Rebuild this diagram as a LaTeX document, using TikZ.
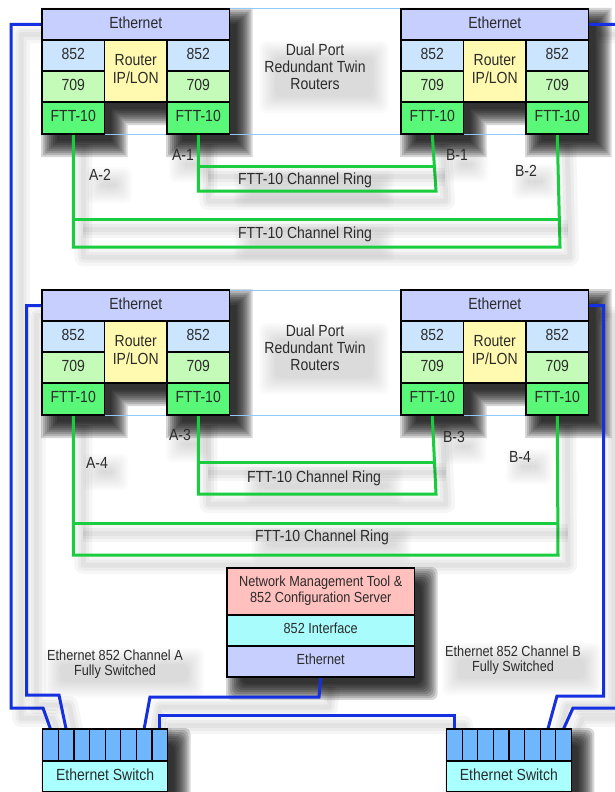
\documentclass[tikz,border=0pt]{standalone}
\usepackage{fontspec}
\setmainfont{Liberation Sans}
\usepackage{graphicx}
\usetikzlibrary{calc}
\definecolor{ethc}{HTML}{C6CFFD}
\definecolor{cbl}{HTML}{CCE5FF}
\definecolor{cgr}{HTML}{C4FBB8}
\definecolor{fttc}{HTML}{5AF878}
\definecolor{rtrc}{HTML}{FFFAAF}
\definecolor{nmtc}{HTML}{FFC0BE}
\definecolor{ifc}{HTML}{A8FCFC}
\definecolor{portc}{HTML}{70B6FC}
\definecolor{swc}{HTML}{AAFFFF}
\definecolor{ringc}{HTML}{1ACD3E}
\definecolor{ethl}{HTML}{1430E0}
\definecolor{grpc}{HTML}{90C8F8}
\definecolor{txt}{HTML}{2B2B2B}
\pgfdeclarelayer{shadow}
\pgfdeclarelayer{lines}
\pgfsetlayers{shadow,lines,main}
\newcommand\vs[1]{\scalebox{1}[1.15]{\begin{tabular}{@{}c@{}}#1\end{tabular}}}
\newcommand\routerbox[3]{%
\node[cellbox,fill=ethc,minimum width=187.5pt,minimum height=31pt] (#1eth) at (#2,#3) {\vs{Ethernet}};
\node[cellbox,fill=cbl,minimum width=62.5pt,minimum height=31pt] (#1aL) at (#1eth.south west) {\vs{852}};
\node[cellbox,fill=rtrc,minimum width=62.5pt,minimum height=62pt] (#1rt) at (#1aL.north east) {\vs{Router\\IP/LON}};
\node[cellbox,fill=cbl,minimum width=62.5pt,minimum height=31pt] (#1aR) at (#1rt.north east) {\vs{852}};
\node[cellbox,fill=cgr,minimum width=62.5pt,minimum height=31pt] (#1bL) at (#1aL.south west) {\vs{709}};
\node[cellbox,fill=cgr,minimum width=62.5pt,minimum height=31pt] (#1bR) at (#1aR.south west) {\vs{709}};
\node[cellbox,fill=fttc,minimum width=62.5pt,minimum height=32pt] (#1cL) at (#1bL.south west) {\vs{FTT-10}};
\node[cellbox,fill=fttc,minimum width=62.5pt,minimum height=32pt] (#1cR) at (#1bR.south west) {\vs{FTT-10}};
}
\newcommand\routersh[2]{%
\foreach \dd in {-4,-2,...,12}{%
\fill[black,opacity=.16] ({#1+11-\dd},{#2+11-\dd}) -- ({#1+198.5+\dd},{#2+11-\dd}) -- ({#1+198.5+\dd},{#2+136+\dd}) -- ({#1+136-\dd},{#2+136+\dd}) -- ({#1+136-\dd},{#2+104+\dd}) -- ({#1+73.5+\dd},{#2+104+\dd}) -- ({#1+73.5+\dd},{#2+136+\dd}) -- ({#1+11-\dd},{#2+136+\dd}) -- cycle;}}
\newcommand\softrect[7]{%
\foreach \dd in {-4,-2,...,#6}{\fill[black,opacity=#5,rounded corners=6pt] ({#1+#7-\dd},{#2+#7-\dd}) rectangle ({#3+#7+\dd},{#4+#7+\dd});}}
\newcommand\switchbox[3]{%
\foreach \i in {1,...,8}{\node[cellbox,fill=portc,minimum width=15.6pt,minimum height=32pt] (#1p\i) at ({#2+(\i-1)*15.6},#3) {};}
\node[cellbox,fill=swc,minimum width=124.8pt,minimum height=31pt] (#1sw) at (#2,{#3+32}) {\vs{Ethernet Switch}};}
\begin{document}
\begin{tikzpicture}[x=1pt,y=-1pt,
 cellbox/.style={draw=black,line width=1.2pt,inner sep=0pt,outer sep=0pt,anchor=north west,text=txt,font=\fontsize{14}{15.4}\selectfont},
 lbl/.style={inner sep=0pt,text=txt,font=\fontsize{14}{15.2}\selectfont},
 slbl/.style={inner sep=0pt,text=txt,font=\fontsize{12.7}{13}\selectfont},
 lsh/.style={preaction={draw=black,draw opacity=.035,line width=18pt,line join=round,transform canvas={shift={(10pt,-10pt)}}},
   preaction={draw=black,draw opacity=.04,line width=11pt,line join=round,transform canvas={shift={(10pt,-10pt)}}},
   preaction={draw=black,draw opacity=.04,line width=5pt,line join=round,transform canvas={shift={(10pt,-10pt)}}}},
 ring/.style={lsh,draw=ringc,line width=3pt},
 eline/.style={lsh,draw=ethl,line width=3pt},
 grp/.style={draw=grpc,line width=1pt}]
\useasboundingbox (0,0) rectangle (615,792);

% boxes
\routerbox{tl}{42}{9}
\routerbox{tr}{401}{9}
\routerbox{ml}{42}{290}
\routerbox{mr}{401}{290}

\node[cellbox,fill=nmtc,minimum width=187.5pt,minimum height=47pt,font=\fontsize{12.7}{13.9}\selectfont] (nmt) at (227,568) {\vs{Network Management Tool \&\\852 Configuration Server}};
\node[cellbox,fill=ifc,minimum width=187.5pt,minimum height=31pt,font=\fontsize{12.7}{13.9}\selectfont] (nif) at (nmt.south west) {\vs{852 Interface}};
\node[cellbox,fill=ethc,minimum width=187.5pt,minimum height=31pt,font=\fontsize{12.7}{13.9}\selectfont] (neth) at (nif.south west) {\vs{Ethernet}};

\switchbox{ls}{42.7}{729}
\switchbox{rs}{446.5}{729}

% texts
\node[lbl] (dp1) at (315,69) {\vs{Dual Port\\Redundant Twin\\Routers}};
\node[lbl] (dp2) at (315,350) {\vs{Dual Port\\Redundant Twin\\Routers}};
\node[lbl] (r1) at (305,181.5) {\vs{FTT-10 Channel Ring}};
\node[lbl] (r2) at (305,235) {\vs{FTT-10 Channel Ring}};
\node[lbl] (r3) at (314,478.5) {\vs{FTT-10 Channel Ring}};
\node[lbl] (r4) at (322,537.5) {\vs{FTT-10 Channel Ring}};
\node[lbl] (a1) at (183,157) {\vs{A-1}};
\node[lbl] (a2) at (100,177.5) {\vs{A-2}};
\node[lbl] (b1) at (457,157) {\vs{B-1}};
\node[lbl] (b2) at (526,173.5) {\vs{B-2}};
\node[lbl] (a3) at (180,436.5) {\vs{A-3}};
\node[lbl] (a4) at (97,465) {\vs{A-4}};
\node[lbl] (b3) at (454,439) {\vs{B-3}};
\node[lbl] (b4) at (520,459) {\vs{B-4}};
\node[slbl] (cha) at (115,664.5) {\vs{Ethernet 852 Channel A\\Fully Switched}};
\node[slbl] (chb) at (513,661) {\vs{Ethernet 852 Channel B\\Fully Switched}};

% shadows
\begin{pgfonlayer}{shadow}
\fill[white] (0,0) rectangle (615,792);
\routersh{42}{9}
\routersh{401}{9}
\routersh{42}{290}
\routersh{401}{290}
\softrect{227}{568}{414.5}{677}{.16}{12}{11}
\softrect{42.7}{729}{167.5}{792}{.16}{12}{11}
\softrect{446.5}{729}{571.3}{792}{.16}{12}{11}
\softrect{262}{44}{368}{92}{.016}{12}{9}
\softrect{262}{326}{368}{373}{.016}{12}{9}
\softrect{237}{173}{373}{187}{.016}{12}{9}
\softrect{237}{227}{373}{240}{.016}{12}{9}
\softrect{246}{470}{382}{483}{.016}{12}{9}
\softrect{254}{529}{390}{542}{.016}{12}{9}
\softrect{172}{150}{193}{161}{.016}{12}{9}
\softrect{89}{170}{111}{182}{.016}{12}{9}
\softrect{447}{150}{467}{161}{.016}{12}{9}
\softrect{515}{167}{537}{178}{.016}{12}{9}
\softrect{169}{429}{191}{441}{.016}{12}{9}
\softrect{86}{457}{107}{469}{.016}{12}{9}
\softrect{444}{432}{465}{443}{.016}{12}{9}
\softrect{509}{452}{531}{463}{.016}{12}{9}
\softrect{47}{651}{183}{677}{.016}{12}{9}
\softrect{445}{646}{580}{674}{.016}{12}{9}
\end{pgfonlayer}

% connectors
\begin{pgfonlayer}{lines}
\draw[grp] (tleth.north west) rectangle (trcR.south east);
\draw[grp] (mleth.north west) rectangle (mrcR.south east);
\coordinate (ti1) at (436,191); \coordinate (ti2) at (434.5,166.5);
\draw[ring] (tlcR.south) |- (ti1) -- (trcL.south);
\draw[ring] (tlcR.south |- ti2) -- (ti2);
\coordinate (to1) at (560,247); \coordinate (to2) at (558.3,219);
\draw[ring] (tlcL.south) |- (to1) -- (trcR.south);
\draw[ring] (tlcL.south |- to2) -- (to2);
\coordinate (mi1) at (436,494); \coordinate (mi2) at (435.5,462);
\draw[ring] (mlcR.south) |- (mi1) -- (mrcL.south);
\draw[ring] (mlcR.south |- mi2) -- (mi2);
\coordinate (mo1) at (558,555); \coordinate (mo2) at (557.7,523);
\draw[ring] (mlcL.south) |- (mo1) -- (mrcR.south);
\draw[ring] (mlcL.south |- mo2) -- (mo2);
\coordinate (k1) at (11,708); \coordinate (k2) at (43,708);
\draw[eline] (tleth.west) -| (k1) -- (k2) -- (lsp1.north);
\coordinate (k3) at (26.7,695); \coordinate (k4) at (59,695);
\draw[eline] (mleth.west) -| (k3) -- (k4) -- (lsp2.north);
\coordinate (k5) at (319,697); \coordinate (k6) at (150,697);
\draw[eline] (neth.south) -- (k5) -- (k6) -- (lsp7.north);
\coordinate (k8) at (454.3,715);
\draw[eline] (lsp8.north) |- (k8) -- (rsp1.north);
\coordinate (k9) at (603.5,696); \coordinate (k10) at (557,696);
\draw[eline] (mreth.east) -| (k9) -- (k10) -- (rsp7.north);
\coordinate (k11) at (621,708); \coordinate (k12) at (573,708);
\draw[eline] (treth.east) -| (k11) -- (k12) -- (rsp8.north);
\end{pgfonlayer}
\end{tikzpicture}
\end{document}
